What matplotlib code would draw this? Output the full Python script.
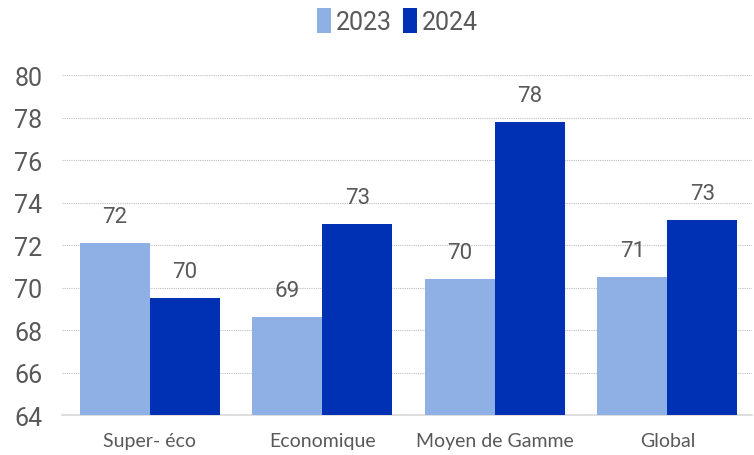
import matplotlib
matplotlib.use('Agg')
import matplotlib.pyplot as plt
import numpy as np

categories = ['Super- éco', 'Economique', 'Moyen de Gamme', 'Global']
values_2023 = [72.1, 68.6, 70.4, 70.5]
values_2024 = [69.5, 73.0, 77.8, 73.2]
labels_2023 = ['72', '69', '70', '71']
labels_2024 = ['70', '73', '78', '73']
yticks = [64, 66, 68, 70, 72, 74, 76, 78, 80]

C_LIGHT = '#8EB0E4'
C_DARK = '#0030B4'
TXT = '#595959'
NUM_FONT = ['Roboto', 'DejaVu Sans']
CAT_FONT = ['Lato', 'DejaVu Sans']

fig = plt.figure(figsize=(7.54, 4.56), dpi=100)
ax = fig.add_axes([0.0822, 0.0877, 0.915, 0.7456])

x = np.arange(len(categories))
w = 0.406
b1 = ax.bar(x - w / 2 + 0.01, [v - 64 for v in values_2023], w, bottom=64, color=C_LIGHT, label='2023')
b2 = ax.bar(x + w / 2 + 0.01, [v - 64 for v in values_2024], w, bottom=64, color=C_DARK, label='2024')

for xi, v, t in zip(x - w / 2 + 0.01, values_2023, labels_2023):
    ax.text(xi, v + 0.75, t, ha='center', va='bottom', fontsize=16, color=TXT, family=NUM_FONT)
for xi, v, t in zip(x + w / 2 + 0.01, values_2024, labels_2024):
    ax.text(xi, v + 0.75, t, ha='center', va='bottom', fontsize=16, color=TXT, family=NUM_FONT)

ax.set_xlim(-0.5, 3.5)
ax.set_ylim(64, 80)
ax.set_yticks(yticks)
ax.set_yticklabels([str(t) for t in yticks], fontsize=18, color=TXT, family=NUM_FONT)
ax.set_xticks(x + 0.01)
ax.set_xticklabels(categories, fontsize=14, color=TXT, family=CAT_FONT)
ax.tick_params(axis='both', length=0)
ax.tick_params(axis='y', pad=14)
ax.tick_params(axis='x', pad=12)

ax.grid(axis='y', linestyle=(0, (1, 1)), color='#BFBFBF', linewidth=0.8)
ax.set_axisbelow(True)
for s in ['top', 'right', 'left']:
    ax.spines[s].set_visible(False)
ax.spines['bottom'].set_color('#D9D9D9')
ax.spines['bottom'].set_linewidth(1.2)
ax.spines['bottom'].set_zorder(0)

leg = fig.legend(handles=[b1, b2], loc='center', bbox_to_anchor=(0.527, 0.952), ncol=2,
                 frameon=False, handlelength=0.55, handleheight=1.15, handletextpad=0.2,
                 columnspacing=0.45, prop={'family': NUM_FONT, 'size': 18})
for t in leg.get_texts():
    t.set_color(TXT)

fig.savefig('out.png', dpi=100)
